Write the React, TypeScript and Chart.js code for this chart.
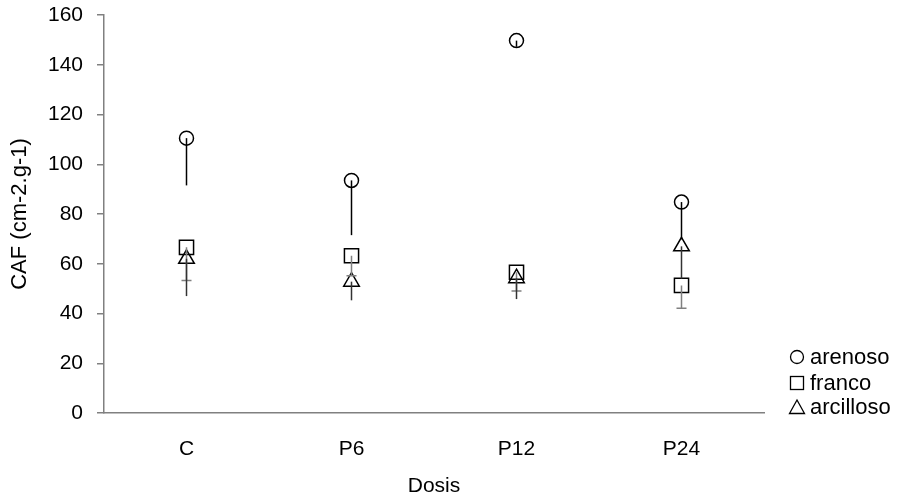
import React, { useEffect, useRef } from "react";
import { Chart, registerables } from "chart.js";

Chart.register(...registerables);

const categories = ["C", "P6", "P12", "P24"];
const arenoso = [110.5, 93.5, 149.7, 84.8];
const arenosoErr = [19, 22, 2.5, 15];
const franco = [66.6, 63.2, 56.6, 51.3];
const francoErr = [13.3, 8, 7.6, 9.2];
const arcilloso = [62, 52.8, 54.2, 67];
const arcillosoErr = [15, 7.5, 8.4, 13];
const yTicks = [0, 20, 40, 60, 80, 100, 120, 140, 160];
const seriesNames = ["arenoso", "franco", "arcilloso"];

const FONT = "'Liberation Sans', Arial, sans-serif";
const FS = 21;

const errorBarPlugin = {
  id: "errorBars",
  afterDatasetsDraw(chart: any) {
    const { ctx, scales } = chart;
    const x = scales.x;
    const y = scales.y;
    const specs = [
      { vals: arenoso, errs: arenosoErr, color: "#000000", cap: false },
      { vals: franco, errs: francoErr, color: "#808080", cap: true },
      { vals: arcilloso, errs: arcillosoErr, color: "#333333", cap: false },
    ];
    ctx.save();
    ctx.lineWidth = 1.5;
    specs.forEach((s) => {
      s.vals.forEach((v, i) => {
        const px = x.getPixelForValue(i);
        const top = y.getPixelForValue(v);
        const bot = y.getPixelForValue(v - s.errs[i]);
        ctx.strokeStyle = s.color;
        ctx.beginPath();
        ctx.moveTo(px, top);
        ctx.lineTo(px, bot);
        if (s.cap) {
          ctx.moveTo(px - 5, bot);
          ctx.lineTo(px + 5, bot);
        }
        ctx.stroke();
      });
    });
    ctx.restore();
  },
};

const legendPlugin = {
  id: "sideLegend",
  afterDraw(chart: any) {
    const { ctx, chartArea } = chart;
    const mx = chartArea.right + 33;
    const rows = [chartArea.bottom - 56, chartArea.bottom - 30, chartArea.bottom - 6];
    ctx.save();
    ctx.strokeStyle = "#000";
    ctx.lineWidth = 1.3;
    ctx.beginPath();
    ctx.arc(mx, rows[0], 6.5, 0, Math.PI * 2);
    ctx.stroke();
    ctx.strokeRect(mx - 6.5, rows[1] - 6.5, 13, 13);
    ctx.beginPath();
    ctx.moveTo(mx, rows[2] - 7);
    ctx.lineTo(mx + 7.5, rows[2] + 6.5);
    ctx.lineTo(mx - 7.5, rows[2] + 6.5);
    ctx.closePath();
    ctx.stroke();
    ctx.fillStyle = "#000";
    ctx.font = `22px ${FONT}`;
    ctx.textBaseline = "middle";
    ctx.textAlign = "left";
    seriesNames.forEach((n, i) => ctx.fillText(n, mx + 13, rows[i] + 1));
    ctx.restore();
  },
};

export default function App() {
  const ref = useRef<HTMLCanvasElement>(null);
  useEffect(() => {
    if (!ref.current) return;
    const chart = new Chart(ref.current, {
      type: "line",
      data: {
        labels: categories,
        datasets: [
          {
            label: seriesNames[0],
            data: arenoso,
            showLine: false,
            pointStyle: "circle",
            pointRadius: 7,
            borderColor: "#000",
            backgroundColor: "rgba(0,0,0,0)",
            borderWidth: 1.5,
          },
          {
            label: seriesNames[1],
            data: franco,
            showLine: false,
            pointStyle: "rect",
            pointRadius: 10,
            borderColor: "#000",
            backgroundColor: "rgba(0,0,0,0)",
            borderWidth: 1.5,
          },
          {
            label: seriesNames[2],
            data: arcilloso,
            showLine: false,
            pointStyle: "triangle",
            pointRadius: 9,
            borderColor: "#000",
            backgroundColor: "rgba(0,0,0,0)",
            borderWidth: 1.5,
          },
        ],
      },
      options: {
        animation: false,
        responsive: false,
        layout: { padding: { top: 0, right: 147, left: 0, bottom: 0 } },
        plugins: {
          tooltip: { enabled: false },
          legend: { display: false },
        },
        scales: {
          x: {
            type: "category",
            offset: true,
            grid: { display: false, drawTicks: false },
            border: { display: true, color: "#808080", width: 1.5 },
            ticks: { color: "#000", padding: 24, font: { family: FONT, size: FS } },
            title: {
              display: true,
              text: "Dosis",
              color: "#000",
              padding: { top: 4, bottom: 3 },
              font: { family: FONT, size: FS },
            },
            afterFit: (s: any) => {
              s.height = 89;
            },
          },
          y: {
            min: 0,
            max: 160,
            afterBuildTicks: (s: any) => {
              s.ticks = yTicks.map((v) => ({ value: v }));
            },
            grid: {
              display: true,
              drawOnChartArea: false,
              drawTicks: true,
              tickLength: 7,
              color: "#808080",
              lineWidth: 1.5,
            },
            border: { display: true, color: "#808080", width: 1.5 },
            ticks: { color: "#000", padding: 14, font: { family: FONT, size: FS } },
            title: {
              display: true,
              text: "CAF (cm-2.g-1)",
              color: "#000",
              padding: { top: 7, bottom: 0 },
              font: { family: FONT, size: 22 },
            },
            afterFit: (s: any) => {
              s.width = 104;
              s.paddingTop = 15;
            },
          },
        },
      },
      plugins: [errorBarPlugin, legendPlugin],
    });
    return () => chart.destroy();
  }, []);
  return (
    <div style={{ position: "fixed", left: 0, top: 0, width: 911, height: 502, background: "#fff" }}>
      <canvas ref={ref} width={911} height={502} />
    </div>
  );
}
